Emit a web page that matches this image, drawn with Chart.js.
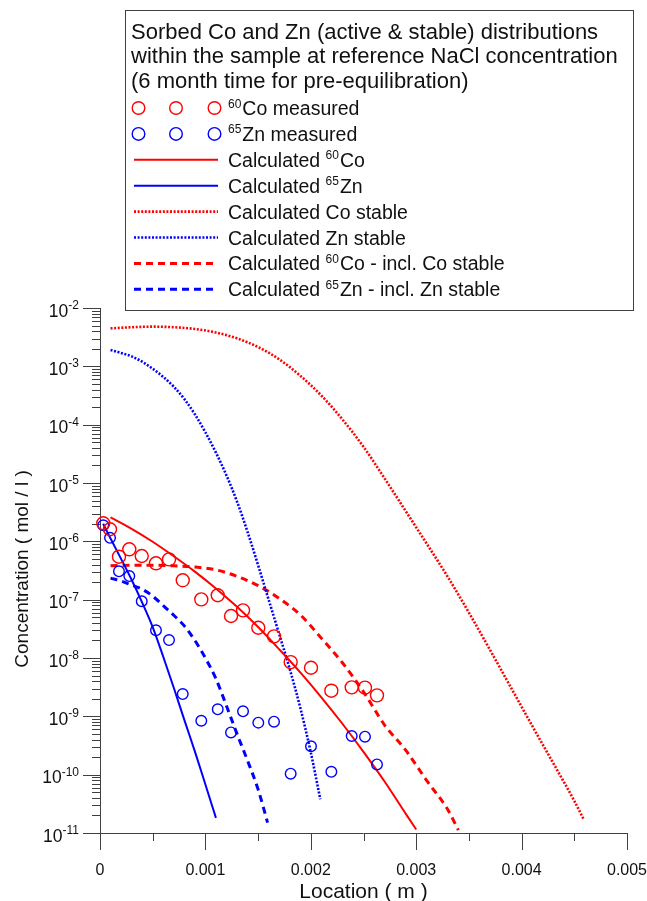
<!DOCTYPE html>
<html>
<head>
<meta charset="utf-8">
<script src="https://cdn.jsdelivr.net/npm/chart.js@4.4.1/dist/chart.umd.min.js"></script>
<style>
  html, body { margin: 0; padding: 0; background: #fff; }
  #wrap { width: 647px; height: 901px; position: relative; }
</style>
</head>
<body>
<div id="wrap"><canvas id="myChart"></canvas></div>
<script>
// measured positions (m), shared by both nuclides
const locations = [0.000031, 0.000095, 0.00018, 0.000278, 0.000396, 0.000531, 0.000655, 0.000785, 0.000961, 0.001117,
  0.001243, 0.001357, 0.001502, 0.001651, 0.001809, 0.002002, 0.002195, 0.002388, 0.002514, 0.002628]
const co60Measured = [2.04e-6, 1.61e-6, 5.45e-7, 7.3e-7, 5.6e-7, 4.2e-7, 4.9e-7, 2.15e-7, 1.01e-7, 1.19e-7,
  5.25e-8, 6.56e-8, 3.3e-8, 2.35e-8, 8.5e-9, 6.8e-9, 2.75e-9, 3.14e-9, 3.1e-9, 2.29e-9]
const zn65Measured = [1.88e-6, 1.15e-6, 3.06e-7, 2.54e-7, 9.4e-8, 2.98e-8, 2.03e-8, 2.41e-9, 8.4e-10, 1.32e-9,
  5.3e-10, 1.22e-9, 7.8e-10, 8.1e-10, 1.04e-10, 3.06e-10, 1.12e-10, 4.6e-10, 4.48e-10, 1.5e-10]

// calculated profiles
const co60CalcX = [0.0001, 0.0003, 0.0005, 0.0007, 0.0009, 0.0011, 0.0013, 0.0015, 0.0017, 0.0019, 0.0021, 0.0023, 0.0025, 0.0027, 0.0029, 0.003]
const co60CalcY = [2.57e-6, 1.64e-6, 9.84e-7, 5.55e-7, 3.03e-7, 1.56e-7, 7.53e-8, 3.39e-8, 1.41e-8, 5.66e-9, 2.12e-9, 7.46e-10, 2.46e-10, 7.64e-11, 2.15e-11, 1.15e-11]

const zn65CalcX = [0.00003, 0.0001, 0.0002, 0.0003, 0.0004, 0.0005, 0.0006, 0.0007, 0.0008, 0.0009, 0.001, 0.0011]
const zn65CalcY = [2.0e-6, 1.12e-6, 5.0e-7, 2.19e-7, 8.9e-8, 3.39e-8, 1.05e-8, 3.09e-9, 8.7e-10, 2.51e-10, 6.8e-11, 1.82e-11]

const coStableX = [0.0001, 0.0003, 0.0005, 0.0007, 0.0009, 0.0011, 0.0013, 0.0015, 0.0017, 0.0019, 0.0021, 0.0023,
  0.0025, 0.0027, 0.0029, 0.0031, 0.0033, 0.0035, 0.0037, 0.0039, 0.0041, 0.0043, 0.0045, 0.00459]
const coStableY = [4.47e-3, 4.68e-3, 4.79e-3, 4.68e-3, 4.37e-3, 3.8e-3, 3.02e-3, 2.14e-3, 1.32e-3, 6.9e-4, 3.16e-4, 1.23e-4,
  4.17e-5, 1.2e-5, 3.31e-6, 9.1e-7, 2.45e-7, 6.0e-8, 1.38e-8, 3.09e-9, 6.9e-10, 1.58e-10, 3.55e-11, 1.7e-11]

const znStableX = [0.0001, 0.0002, 0.0003, 0.0004, 0.0005, 0.0006, 0.0007, 0.0008, 0.0009, 0.001, 0.0011,
  0.0012, 0.0013, 0.0014, 0.0015, 0.0016, 0.0017, 0.0018, 0.0019, 0.002, 0.00209]
const znStableY = [1.91e-3, 1.7e-3, 1.48e-3, 1.2e-3, 9.1e-4, 6.6e-4, 4.47e-4, 2.75e-4, 1.51e-4, 7.4e-5, 3.31e-5,
  1.35e-5, 4.8e-6, 1.45e-6, 3.9e-7, 1.0e-7, 2.57e-8, 6.5e-9, 1.41e-9, 2.4e-10, 3.8e-11]

const co60InclX = [0.0001, 0.0003, 0.0005, 0.0007, 0.0009, 0.0011, 0.0013, 0.0015, 0.0017, 0.0019, 0.0021, 0.0023,
  0.0025, 0.0027, 0.0029, 0.0031, 0.0033, 0.0034]
const co60InclY = [3.8e-7, 3.89e-7, 3.89e-7, 3.8e-7, 3.63e-7, 3.24e-7, 2.51e-7, 1.74e-7, 1.05e-7, 5.5e-8, 2.19e-8, 8.3e-9,
  2.63e-9, 7.1e-10, 2.63e-10, 7.9e-11, 2.51e-11, 1.12e-11]

const zn65InclX = [0.0001, 0.0002, 0.0003, 0.0004, 0.0005, 0.0006, 0.0007, 0.0008, 0.0009, 0.001, 0.0011,
  0.0012, 0.0013, 0.0014, 0.0015, 0.00159]
const zn65InclY = [2.34e-7, 2.09e-7, 1.78e-7, 1.51e-7, 1.15e-7, 7.9e-8, 5.4e-8, 3.55e-8, 2.0e-8, 1.0e-8, 4.4e-9,
  1.51e-9, 5.0e-10, 1.74e-10, 5.6e-11, 1.51e-11]

// axes
const xTickValues = [0, 0.001, 0.002, 0.003, 0.004, 0.005]
const xTickLabels = ['0', '0.001', '0.002', '0.003', '0.004', '0.005']
const yTickExponents = [-11, -10, -9, -8, -7, -6, -5, -4, -3, -2]
const xTitle = 'Location ( m )'
const yTitle = 'Concentration ( mol / l )'

// legend: title lines and [before, superscript, after] per entry
const legendTitle = [
  'Sorbed Co and Zn (active & stable) distributions',
  'within the sample at reference NaCl concentration',
  '(6 month time for pre-equilibration)'
]
const legendLabels = [
  ['', '60', 'Co measured'],
  ['', '65', 'Zn measured'],
  ['Calculated ', '60', 'Co'],
  ['Calculated ', '65', 'Zn'],
  ['Calculated Co stable', '', ''],
  ['Calculated Zn stable', '', ''],
  ['Calculated ', '60', 'Co - incl. Co stable'],
  ['Calculated ', '65', 'Zn - incl. Zn stable']
]

const RED = '#ff0000'
const BLUE = '#0000ff'
const FONT = '"Liberation Sans", Arial, sans-serif'

const pts = (xs, ys) => xs.map((x, i) => ({ x: x, y: ys[i] }))

const lineSet = (xs, ys, color, dash, width) => ({
    data: pts(xs, ys),
    showLine: true,
    borderColor: color,
    borderWidth: width,
    borderDash: dash,
    pointRadius: 0,
    cubicInterpolationMode: 'monotone',
    fill: false,
    clip: false
})

const circleSet = (ys, color, r) => ({
    data: pts(locations, ys),
    showLine: false,
    borderColor: color,
    backgroundColor: 'rgba(0,0,0,0)',
    borderWidth: 1.4,
    pointRadius: r,
    pointStyle: 'circle',
    clip: false
})

function drawRich(ctx, parts, x, y, size) {
    ctx.font = size + 'px ' + FONT
    ctx.fillText(parts[0], x, y)
    x += ctx.measureText(parts[0]).width
    if (parts[1]) {
        ctx.font = Math.round(size * 0.6) + 'px ' + FONT
        ctx.fillText(parts[1], x, y - size * 0.38)
        x += ctx.measureText(parts[1]).width + 1
    }
    ctx.font = size + 'px ' + FONT
    ctx.fillText(parts[2], x, y)
}

const axesPlugin = {
    id: 'axes',
    beforeDatasetsDraw(chart) {
        const { ctx, chartArea: a, scales } = chart
        const xs = scales.x, ys = scales.y
        ctx.save()
        ctx.strokeStyle = '#404040'
        ctx.lineWidth = 1
        ctx.beginPath()
        ctx.moveTo(a.left + 0.5, a.top)
        ctx.lineTo(a.left + 0.5, a.bottom)
        ctx.moveTo(a.left, a.bottom + 0.5)
        ctx.lineTo(a.right, a.bottom + 0.5)
        // x ticks, major + half steps
        xTickValues.forEach((v, i) => {
            const px = Math.round(xs.getPixelForValue(v)) + 0.5
            ctx.moveTo(px, a.bottom)
            ctx.lineTo(px, a.bottom + 17)
            if (i < xTickValues.length - 1) {
                const m = Math.round(xs.getPixelForValue((v + xTickValues[i + 1]) / 2)) + 0.5
                ctx.moveTo(m, a.bottom)
                ctx.lineTo(m, a.bottom + 8)
            }
        })
        // y ticks, decades + 2..9
        yTickExponents.forEach((e, i) => {
            const py = Math.round(ys.getPixelForValue(Math.pow(10, e))) + 0.5
            ctx.moveTo(a.left - 17, py)
            ctx.lineTo(a.left, py)
            if (i < yTickExponents.length - 1) {
                for (let k = 2; k <= 9; k++) {
                    const my = Math.round(ys.getPixelForValue(k * Math.pow(10, e))) + 0.5
                    ctx.moveTo(a.left - 8, my)
                    ctx.lineTo(a.left, my)
                }
            }
        })
        ctx.stroke()

        ctx.fillStyle = '#111'
        ctx.textBaseline = 'alphabetic'
        // x labels
        ctx.font = '16px ' + FONT
        ctx.textAlign = 'center'
        xTickValues.forEach((v, i) => {
            ctx.fillText(xTickLabels[i], xs.getPixelForValue(v), a.bottom + 42)
        })
        // y labels 10^e
        ctx.textAlign = 'left'
        yTickExponents.forEach(e => {
            const py = ys.getPixelForValue(Math.pow(10, e))
            ctx.font = '12px ' + FONT
            const sw = ctx.measureText(String(e)).width
            ctx.font = '17.5px ' + FONT
            const bw = ctx.measureText('10').width
            const right = a.left - 21
            ctx.fillText('10', right - sw - bw, py + 8.5)
            ctx.font = '12px ' + FONT
            ctx.fillText(String(e), right - sw, py + 1)
        })
        // axis titles
        ctx.font = '21px ' + FONT
        ctx.textAlign = 'center'
        ctx.fillText(xTitle, (a.left + a.right) / 2, a.bottom + 65)
        ctx.save()
        ctx.translate(28, 569)
        ctx.rotate(-Math.PI / 2)
        ctx.font = '19px ' + FONT
        ctx.fillText(yTitle, 0, 0)
        ctx.restore()
        ctx.restore()
    }
}

const legendPlugin = {
    id: 'boxLegend',
    afterDraw(chart) {
        const ctx = chart.ctx
        ctx.save()
        ctx.fillStyle = '#fff'
        ctx.fillRect(125, 10, 508, 300)
        ctx.strokeStyle = '#404040'
        ctx.lineWidth = 1
        ctx.strokeRect(125.5, 10.5, 508, 300)
        ctx.fillStyle = '#111'
        ctx.textAlign = 'left'
        ctx.textBaseline = 'alphabetic'
        ctx.font = '22px ' + FONT
        legendTitle.forEach((t, i) => ctx.fillText(t, 131, 39 + i * 24.3))

        legendLabels.forEach((parts, i) => {
            const ds = chart.data.datasets[i]
            const base = 115 + i * 25.9
            const cy = base - 7
            if (ds.showLine) {
                ctx.save()
                ctx.strokeStyle = ds.borderColor
                ctx.lineWidth = ds.borderWidth
                ctx.setLineDash(ds.borderDash || [])
                ctx.beginPath()
                ctx.moveTo(134, cy)
                ctx.lineTo(218, cy)
                ctx.stroke()
                ctx.restore()
            } else {
                ctx.save()
                ctx.strokeStyle = ds.borderColor
                ctx.lineWidth = ds.borderWidth
                ;[138.5, 176, 214.5].forEach(cx => {
                    ctx.beginPath()
                    ctx.arc(cx, cy, 6.3, 0, Math.PI * 2)
                    ctx.stroke()
                })
                ctx.restore()
            }
            ctx.fillStyle = '#111'
            drawRich(ctx, parts, 228, base, 19.5)
        })
        ctx.restore()
    }
}

const chartRef = document.getElementById('myChart').getContext('2d')
new Chart(chartRef, {
    type: 'scatter',
    data: {
        datasets: [
            circleSet(co60Measured, RED, 6.5),
            circleSet(zn65Measured, BLUE, 5.3),
            lineSet(co60CalcX, co60CalcY, RED, [], 2),
            lineSet(zn65CalcX, zn65CalcY, BLUE, [], 2),
            lineSet(coStableX, coStableY, RED, [2, 1.6], 2.6),
            lineSet(znStableX, znStableY, BLUE, [2, 1.6], 2.6),
            lineSet(co60InclX, co60InclY, RED, [7, 5], 3),
            lineSet(zn65InclX, zn65InclY, BLUE, [7, 5], 3)
        ]
    },
    options: {
        responsive: true,
        maintainAspectRatio: false,
        animation: false,
        layout: { padding: { left: 100, right: 20, top: 308, bottom: 68 } },
        plugins: { legend: { display: false }, tooltip: { enabled: false } },
        scales: {
            x: { type: 'linear', min: 0, max: 0.005, display: false },
            y: { type: 'logarithmic', min: 1e-11, max: 1e-2, display: false }
        }
    },
    plugins: [axesPlugin, legendPlugin]
})
</script>
</body>
</html>
